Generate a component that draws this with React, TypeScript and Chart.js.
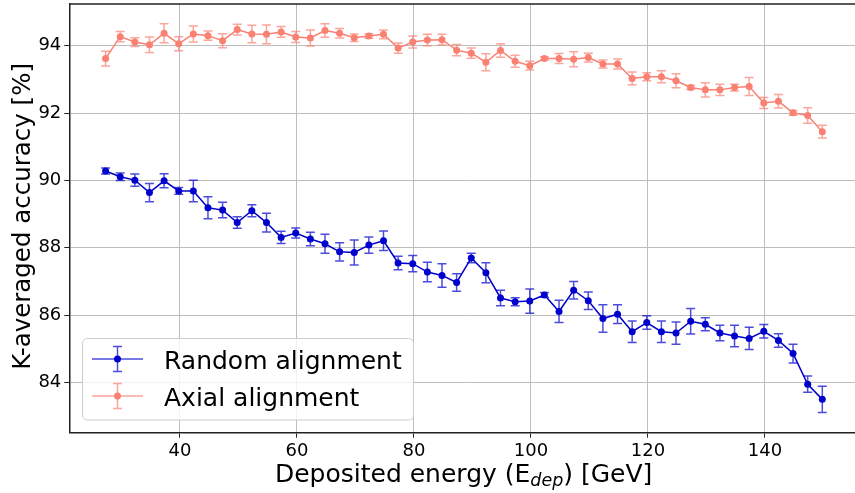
import React, { useEffect, useRef } from "react";
import { Chart, registerables } from "chart.js";

Chart.register(...registerables);

// ---- data ----
const energies = [
  27.3, 29.8, 32.3, 34.8, 37.3, 39.8, 42.3, 44.8, 47.3, 49.8,
  52.3, 54.8, 57.3, 59.8, 62.3, 64.8, 67.3, 69.8, 72.3, 74.8,
  77.3, 79.8, 82.3, 84.8, 87.3, 89.8, 92.3, 94.8, 97.3, 99.8,
  102.3, 104.8, 107.3, 109.8, 112.3, 114.8, 117.3, 119.8, 122.3, 124.8,
  127.3, 129.8, 132.3, 134.8, 137.3, 139.8, 142.3, 144.8, 147.3, 149.8,
];

const randomAcc = [
  90.28, 90.11, 90.01, 89.64, 89.99, 89.69, 89.69, 89.19, 89.12, 88.75,
  89.1, 88.75, 88.31, 88.44, 88.26, 88.12, 87.88, 87.86, 88.08, 88.21,
  87.55, 87.53, 87.28, 87.18, 86.97, 87.7, 87.26, 86.51, 86.4, 86.42,
  86.6, 86.11, 86.74, 86.43, 85.9, 86.03, 85.51, 85.78, 85.51, 85.47,
  85.82, 85.73, 85.47, 85.38, 85.31, 85.52, 85.25, 84.86, 83.95, 83.5,
];
const randomErr = [
  0.09, 0.11, 0.18, 0.27, 0.21, 0.1, 0.32, 0.33, 0.23, 0.17,
  0.18, 0.28, 0.18, 0.15, 0.2, 0.28, 0.27, 0.37, 0.24, 0.29,
  0.2, 0.24, 0.29, 0.35, 0.26, 0.14, 0.3, 0.23, 0.12, 0.36,
  0.07, 0.33, 0.26, 0.26, 0.41, 0.28, 0.32, 0.2, 0.32, 0.33,
  0.38, 0.19, 0.23, 0.32, 0.33, 0.2, 0.2, 0.28, 0.24, 0.39,
];

const axialAcc = [
  93.62, 94.27, 94.11, 94.03, 94.37, 94.06, 94.35, 94.3, 94.15, 94.48,
  94.35, 94.34, 94.41, 94.26, 94.23, 94.45, 94.37, 94.24, 94.29, 94.34,
  93.93, 94.11, 94.17, 94.18, 93.87, 93.78, 93.51, 93.86, 93.54, 93.41,
  93.62, 93.62, 93.6, 93.65, 93.46, 93.46, 93.03, 93.08, 93.08, 92.96,
  92.76, 92.69, 92.69, 92.76, 92.79, 92.3, 92.35, 92.01, 91.93, 91.45,
];
const axialErr = [
  0.22, 0.15, 0.13, 0.23, 0.28, 0.21, 0.24, 0.14, 0.21, 0.16,
  0.26, 0.28, 0.16, 0.16, 0.24, 0.2, 0.14, 0.11, 0.07, 0.13,
  0.15, 0.18, 0.17, 0.16, 0.17, 0.15, 0.25, 0.2, 0.18, 0.13,
  0.05, 0.15, 0.22, 0.13, 0.12, 0.15, 0.19, 0.12, 0.18, 0.21,
  0.06, 0.21, 0.17, 0.1, 0.27, 0.16, 0.2, 0.07, 0.23, 0.19,
];

const xTicks = [40, 60, 80, 100, 120, 140];
const yTicks = [84, 86, 88, 90, 92, 94];
const seriesLabels = ["Random alignment", "Axial alignment"];
const xTitleParts = ["Deposited energy (E", "dep", ") [GeV]"];
const yTitle = "K-averaged accuracy [%]";

const FONT = "'DejaVu Sans', sans-serif";
const BLUE = "#0000cd";
const BLUE_ERR = "rgba(0,0,205,0.7)";
const SALMON = "#fa8072";
const SALMON_ERR = "rgba(250,128,114,0.7)";

export default function App() {
  const ref = useRef<HTMLCanvasElement>(null);

  useEffect(() => {
    if (!ref.current) return;
    const errors = [randomErr, axialErr];
    const errColors = [BLUE_ERR, SALMON_ERR];
    const mainColors = [BLUE, SALMON];

    const errorBars = {
      id: "errorBars",
      beforeDatasetsDraw(chart: any) {
        const ctx = chart.ctx;
        const xs = chart.scales.x;
        const ys = chart.scales.y;
        chart.data.datasets.forEach((ds: any, i: number) => {
          ctx.save();
          ctx.strokeStyle = errColors[i];
          ctx.lineWidth = 1.5;
          ds.data.forEach((p: any, j: number) => {
            const e = errors[i][j];
            const px = xs.getPixelForValue(p.x);
            const y1 = ys.getPixelForValue(p.y - e);
            const y2 = ys.getPixelForValue(p.y + e);
            ctx.beginPath();
            ctx.moveTo(px, y1);
            ctx.lineTo(px, y2);
            ctx.moveTo(px - 4.5, y1);
            ctx.lineTo(px + 4.5, y1);
            ctx.moveTo(px - 4.5, y2);
            ctx.lineTo(px + 4.5, y2);
            ctx.stroke();
          });
          ctx.restore();
        });
      },
    };

    const decorations = {
      id: "decorations",
      afterDraw(chart: any) {
        const ctx = chart.ctx;
        const a = chart.chartArea;
        ctx.save();
        // top spine
        ctx.strokeStyle = "#222";
        ctx.lineWidth = 1.5;
        ctx.beginPath();
        ctx.moveTo(a.left, a.top);
        ctx.lineTo(a.right, a.top);
        ctx.stroke();

        // y title
        ctx.fillStyle = "#000";
        ctx.font = `24.5px ${FONT}`;
        ctx.textAlign = "center";
        ctx.textBaseline = "alphabetic";
        ctx.save();
        ctx.translate(29.5, (a.top + a.bottom) / 2 - 2);
        ctx.rotate(-Math.PI / 2);
        ctx.fillText(yTitle, 0, 0);
        ctx.restore();

        // x title with subscript
        const mainFont = `25px ${FONT}`;
        const subFont = `italic 17.5px ${FONT}`;
        ctx.textAlign = "left";
        ctx.font = mainFont;
        const w0 = ctx.measureText(xTitleParts[0]).width;
        const w2 = ctx.measureText(xTitleParts[2]).width;
        ctx.font = subFont;
        const w1 = ctx.measureText(xTitleParts[1]).width;
        const total = w0 + w1 + w2;
        let x = (a.left + a.right) / 2 - total / 2;
        const base = 482;
        ctx.font = mainFont;
        ctx.fillText(xTitleParts[0], x, base);
        x += w0;
        ctx.font = subFont;
        ctx.fillText(xTitleParts[1], x, base + 4);
        x += w1;
        ctx.font = mainFont;
        ctx.fillText(xTitleParts[2], x, base);

        // legend
        const lx = 82.5, ly = 338.5, lw = 331, lh = 81.5, r = 5;
        ctx.beginPath();
        ctx.moveTo(lx + r, ly);
        ctx.lineTo(lx + lw - r, ly);
        ctx.quadraticCurveTo(lx + lw, ly, lx + lw, ly + r);
        ctx.lineTo(lx + lw, ly + lh - r);
        ctx.quadraticCurveTo(lx + lw, ly + lh, lx + lw - r, ly + lh);
        ctx.lineTo(lx + r, ly + lh);
        ctx.quadraticCurveTo(lx, ly + lh, lx, ly + lh - r);
        ctx.lineTo(lx, ly + r);
        ctx.quadraticCurveTo(lx, ly, lx + r, ly);
        ctx.closePath();
        ctx.fillStyle = "rgba(255,255,255,0.8)";
        ctx.fill();
        ctx.strokeStyle = "#cccccc";
        ctx.lineWidth = 1;
        ctx.stroke();

        const rows = [359, 396];
        chart.data.datasets.forEach((ds: any, i: number) => {
          const ry = rows[i];
          ctx.strokeStyle = errColors[i];
          ctx.lineWidth = 1.5;
          ctx.beginPath();
          ctx.moveTo(92, ry);
          ctx.lineTo(143, ry);
          ctx.moveTo(117.5, ry - 12.5);
          ctx.lineTo(117.5, ry + 12.5);
          ctx.moveTo(113, ry - 12.5);
          ctx.lineTo(122, ry - 12.5);
          ctx.moveTo(113, ry + 12.5);
          ctx.lineTo(122, ry + 12.5);
          ctx.stroke();
          ctx.fillStyle = mainColors[i];
          ctx.beginPath();
          ctx.arc(117.5, ry, 3.5, 0, Math.PI * 2);
          ctx.fill();
          ctx.fillStyle = "#000";
          ctx.font = `25px ${FONT}`;
          ctx.textAlign = "left";
          ctx.textBaseline = "alphabetic";
          ctx.fillText(ds.label, 164, ry + 9.5);
        });
        ctx.restore();
      },
    };

    const chart = new Chart(ref.current, {
      type: "line",
      data: {
        datasets: [
          {
            label: seriesLabels[0],
            data: energies.map((x, i) => ({ x, y: randomAcc[i] })),
            borderColor: BLUE,
            backgroundColor: BLUE,
            borderWidth: 1.5,
            pointRadius: 3.5,
            pointBorderWidth: 0,
            pointBackgroundColor: BLUE,
            tension: 0,
          },
          {
            label: seriesLabels[1],
            data: energies.map((x, i) => ({ x, y: axialAcc[i] })),
            borderColor: SALMON,
            backgroundColor: SALMON,
            borderWidth: 1.5,
            pointRadius: 3.5,
            pointBorderWidth: 0,
            pointBackgroundColor: SALMON,
            tension: 0,
          },
        ],
      },
      options: {
        animation: false,
        responsive: false,
        events: [],
        layout: { padding: { top: 2, left: 0, right: 0, bottom: 0 } },
        plugins: {
          legend: { display: false },
          tooltip: { enabled: false },
        },
        scales: {
          x: {
            type: "linear",
            min: 21.1,
            max: 155.9,
            afterBuildTicks: (s: any) => {
              s.ticks = xTicks.map((v) => ({ value: v }));
            },
            afterFit: (s: any) => {
              s.height = 60.3;
              s.paddingLeft = 0;
              s.paddingRight = 0;
            },
            grid: {
              color: "#bdbdbd",
              lineWidth: 1,
              tickLength: 5,
              tickColor: "#222",
            },
            border: { color: "#222", width: 1.5 },
            ticks: {
              font: { family: FONT, size: 18 },
              color: "#000",
              padding: 3,
              maxRotation: 0,
              autoSkip: false,
            },
          },
          y: {
            type: "linear",
            min: 82.51,
            max: 95.24,
            afterBuildTicks: (s: any) => {
              s.ticks = yTicks.map((v) => ({ value: v }));
            },
            afterFit: (s: any) => {
              s.width = 69.3;
              s.paddingTop = 0;
              s.paddingBottom = 0;
            },
            grid: {
              color: "#bdbdbd",
              lineWidth: 1,
              tickLength: 5,
              tickColor: "#222",
            },
            border: { color: "#222", width: 1.5 },
            ticks: {
              font: { family: FONT, size: 18 },
              color: "#000",
              padding: 3,
              autoSkip: false,
            },
          },
        },
      },
      plugins: [errorBars, decorations],
    } as any);

    return () => chart.destroy();
  }, []);

  return (
    <div
      style={{
        position: "fixed",
        left: 0,
        top: 0,
        width: 855,
        height: 493,
        overflow: "hidden",
        background: "#fff",
      }}
    >
      <canvas
        ref={ref}
        width={862}
        height={493}
        style={{ width: 862, height: 493, display: "block" }}
      />
    </div>
  );
}
